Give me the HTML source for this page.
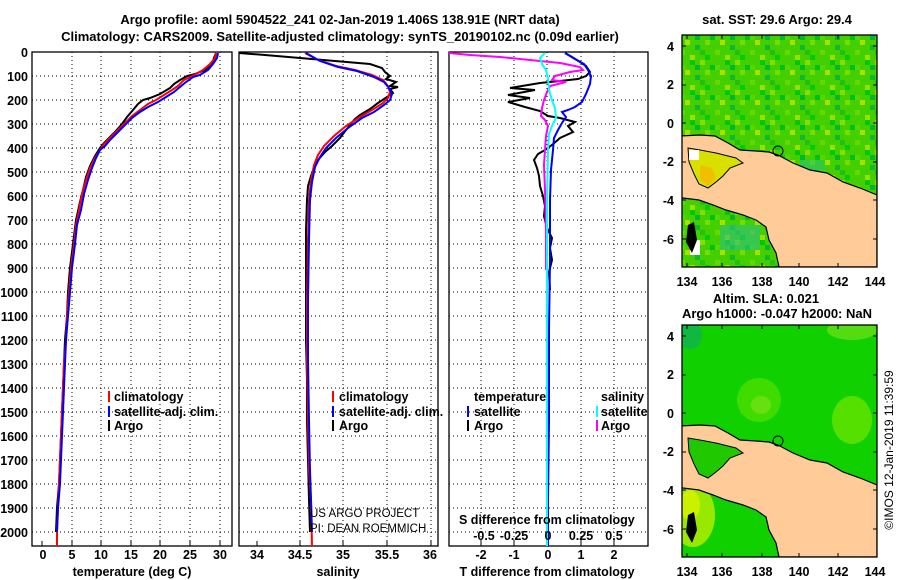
<!DOCTYPE html>
<html><head><meta charset="utf-8"><style>
html,body{margin:0;padding:0;background:#fff;}
svg{display:block;font-family:"Liberation Sans",sans-serif;}
.b{font-weight:bold;font-size:13px;}
.t{font-weight:bold;font-size:12.5px;}
.g{stroke:#000;stroke-width:1;stroke-dasharray:1,3;fill:none;}
</style></head><body>
<svg width="900" height="580" viewBox="0 0 900 580" xmlns="http://www.w3.org/2000/svg">
<rect width="900" height="580" fill="#fff"/>
<text class="b" x="340" y="24" text-anchor="middle">Argo profile: aoml 5904522_241 02-Jan-2019 1.406S 138.91E (NRT data)</text>
<text class="b" x="340" y="41" text-anchor="middle">Climatology: CARS2009. Satellite-adjusted climatology: synTS_20190102.nc (0.09d earlier)</text>

<g class="t" text-anchor="end">
<text x="28" y="57">0</text><text x="28" y="81">100</text><text x="28" y="105">200</text><text x="28" y="129">300</text><text x="28" y="153">400</text><text x="28" y="177">500</text><text x="28" y="201">600</text><text x="28" y="225">700</text><text x="28" y="249">800</text><text x="28" y="273">900</text><text x="28" y="297">1000</text><text x="28" y="321">1100</text><text x="28" y="345">1200</text><text x="28" y="369">1300</text><text x="28" y="393">1400</text><text x="28" y="417">1500</text><text x="28" y="441">1600</text><text x="28" y="465">1700</text><text x="28" y="489">1800</text><text x="28" y="513">1900</text><text x="28" y="537">2000</text>
</g>

<g class="g">
<path d="M32 76H232M32 100H232M32 124H232M32 148H232M32 172H232M32 196H232M32 220H232M32 244H232M32 268H232M32 292H232M32 316H232M32 340H232M32 364H232M32 388H232M32 412H232M32 436H232M32 460H232M32 484H232M32 508H232M32 532H232"/>
<path d="M239 76H438M239 100H438M239 124H438M239 148H438M239 172H438M239 196H438M239 220H438M239 244H438M239 268H438M239 292H438M239 316H438M239 340H438M239 364H438M239 388H438M239 412H438M239 436H438M239 460H438M239 484H438M239 508H438M239 532H438"/>
<path d="M449 76H648M449 100H648M449 124H648M449 148H648M449 172H648M449 196H648M449 220H648M449 244H648M449 268H648M449 292H648M449 316H648M449 340H648M449 364H648M449 388H648M449 412H648M449 436H648M449 460H648M449 484H648M449 508H648M449 532H648"/>
<path d="M72 52V546M101 52V546M131 52V546M160 52V546M190 52V546M220 52V546"/>
<path d="M300 52V546M343 52V546M387 52V546M431 52V546"/>
<path d="M481 52V546M514 52V546M547 52V546M581 52V546M614 52V546"/>
</g>
<rect x="32" y="52" width="200" height="494" fill="none" stroke="#000" stroke-width="1.3"/>
<rect x="239" y="52" width="199" height="494" fill="none" stroke="#000" stroke-width="1.3"/>
<rect x="449" y="52" width="199" height="494" fill="none" stroke="#000" stroke-width="1.3"/>
<g stroke="#000"><path d="M42 546v-5M72 546v-5M101 546v-5M131 546v-5M160 546v-5M190 546v-5M220 546v-5M257 546v-5M300 546v-5M343 546v-5M387 546v-5M431 546v-5M481 546v-5M514 546v-5M547 546v-5M581 546v-5M614 546v-5"/></g>

<g class="t" text-anchor="middle">
<text x="43" y="559">0</text><text x="72" y="559">5</text><text x="101" y="559">10</text><text x="131" y="559">15</text><text x="160" y="559">20</text><text x="190" y="559">25</text><text x="220" y="559">30</text>
<text x="257" y="559">34</text><text x="300" y="559">34.5</text><text x="343" y="559">35</text><text x="387" y="559">35.5</text><text x="430" y="559">36</text>
<text x="481" y="559">-2</text><text x="514" y="559">-1</text><text x="548" y="559">0</text><text x="581" y="559">1</text><text x="614" y="559">2</text>
<text x="132" y="576">temperature (deg C)</text><text x="338" y="576">salinity</text><text x="547" y="576">T difference from climatology</text>
</g>

<polyline fill="none" stroke="#000" stroke-width="2" points="216,53 214,58 212,64 205,70 195,74 187,76 180,80 174,84 170,88 160,94 150,98 143,100 138,104 133,110 127,117 122,124 115,132 110,137 104,143 100,148 95,156 90,166 86,177 83,190 80,202 76,220 73,244 70,268 68,292 67,316 65,340 64,364 63,388 62,412 61,436 60,460 59,484 57,508 56,532"/>
<polyline fill="none" stroke="#f00" stroke-width="2" points="216,53 215,58 210,64 203,70 196,74 190,77 184,80 178,86 172,90 164,95 156,100 148,104 140,110 132,116 124,124 117,131 110,138 104,144 100,150 95,158 90,168 86,180 82,194 79,210 76,225 74,244 71,268 69,292 67,316 66,340 64,364 63,388 62,412 61,436 60,460 59,484 58,508 57,530 57,546"/>
<polyline fill="none" stroke="#00f" stroke-width="2" points="218,53 217,58 213,64 208,70 200,75 193,77 186,82 180,87 174,92 166,97 158,102 148,107 140,112 132,118 124,126 116,134 110,140 105,146 100,150 96,158 92,168 88,180 84,194 81,210 77,225 75,244 72,268 70,292 68,316 66,340 65,364 64,388 63,412 62,436 61,460 60,484 58,508 57,532"/>

<polyline fill="none" stroke="#000" stroke-width="2" points="239,53 265,55 300,58 335,61 370,64 382,68 385,72 390,76 386,79 396,82 390,86 398,87 390,89 393,93 387,97 378,103 370,109 360,115 355,119 350,125 346,130 340,138 332,146 325,152 318,160 314,168 311,176 308,186 307,200 306,230 306,260 306,300 306,340 307,380 307,420 308,460 309,500 310,532"/>
<polyline fill="none" stroke="#f00" stroke-width="2" points="305,53 318,60 336,66 355,70 372,75 383,80 388,86 390,92 388,98 383,103 372,110 360,117 346,126 334,136 324,146 318,155 314,165 311,180 309,200 308,240 307,300 307,360 308,420 309,470 311,500 312,546"/>
<polyline fill="none" stroke="#00f" stroke-width="2" points="306,53 320,61 338,67 357,71 374,77 384,82 389,88 392,94 390,100 384,105 374,112 362,118 348,128 336,138 326,148 320,157 315,167 312,182 310,200 309,240 308,300 308,360 309,420 310,470 311,500 312,532"/>

<polyline fill="none" stroke="#000" stroke-width="2" points="565,53 572,57 580,62 586,66 590,72 586,76 578,79 560,81 540,83 510,88 535,90 508,95 530,98 508,102 525,107 540,111 548,116 560,118 575,122 568,126 573,132 560,138 552,145 545,150 538,154 534,160 537,168 539,176 540,186 543,196 545,206 544,216 547,228 552,238 550,248 552,260 549,272 550,290"/>
<polyline fill="none" stroke="#00f" stroke-width="2" points="565,53 575,59 584,64 588,70 591,76 590,84 586,94 582,102 575,107 568,110 562,112 566,117 562,123 558,130 554,138 553,150 551,170 550,200 550,260 549,330 549,420 548,500 548,546"/>
<polyline fill="none" stroke="#f0f" stroke-width="2" points="449,53 470,55 500,57 530,60 560,63 580,67 583,70 570,72 555,76 552,80 566,82 558,84 550,86 547,92 544,100 542,108 541,116 545,120 548,126 546,136 545,150 544,165 545,190 546,230 546,270"/>
<polyline fill="none" stroke="#0ff" stroke-width="2" points="545,53 540,58 542,64 546,70 548,78 549,90 552,100 555,108 556,118 552,126 549,134 548,150 547,200 547,300 547,400 547,546"/>

<g font-size="12.5" font-weight="bold">
<rect x="108" y="391" width="2" height="11" fill="#f00"/><text x="114" y="401">climatology</text>
<rect x="108" y="406" width="2" height="11" fill="#00f"/><text x="114" y="416">satellite-adj. clim.</text>
<rect x="108" y="420" width="2" height="11" fill="#000"/><text x="114" y="430">Argo</text>
<rect x="332" y="391" width="2" height="11" fill="#f00"/><text x="339" y="401">climatology</text>
<rect x="332" y="406" width="2" height="11" fill="#00f"/><text x="339" y="416">satellite-adj. clim.</text>
<rect x="332" y="420" width="2" height="11" fill="#000"/><text x="339" y="430">Argo</text>
<text x="474" y="401">temperature</text><text x="601" y="401">salinity</text>
<rect x="467" y="406" width="2" height="11" fill="#00f"/><text x="474" y="416">satellite</text>
<rect x="467" y="420" width="2" height="11" fill="#000"/><text x="474" y="430">Argo</text>
<rect x="596" y="406" width="2" height="11" fill="#0ff"/><text x="601" y="416">satellite</text>
<rect x="596" y="420" width="2" height="11" fill="#f0f"/><text x="601" y="430">Argo</text>
<text x="459" y="524">S difference from climatology</text>
<g text-anchor="middle"><text x="484" y="540">-0.5</text><text x="514" y="540">-0.25</text><text x="548" y="540">0</text><text x="581" y="540">0.25</text><text x="614" y="540">0.5</text></g>
</g>
<g font-size="11.5"><text x="310" y="517">US ARGO PROJECT</text><text x="310" y="532">PI: DEAN ROEMMICH</text></g>

<defs>
<clipPath id="mc"><rect x="682" y="35" width="195" height="232"/></clipPath>
<pattern id="p1" width="35" height="30" patternUnits="userSpaceOnUse">
<rect width="35" height="30" fill="#44d000"/>
<rect x="0" y="0" width="5" height="5" fill="#88dd00"/><rect x="10" y="5" width="5" height="5" fill="#00c020"/>
<rect x="20" y="10" width="5" height="5" fill="#aae000"/><rect x="30" y="15" width="5" height="5" fill="#10b830"/>
<rect x="15" y="20" width="5" height="5" fill="#66d800"/><rect x="5" y="25" width="5" height="5" fill="#00cc00"/>
<rect x="25" y="0" width="5" height="5" fill="#00c800"/><rect x="5" y="10" width="5" height="5" fill="#77dd00"/>
<rect x="25" y="25" width="5" height="5" fill="#99e000"/><rect x="0" y="20" width="5" height="5" fill="#22c010"/>
<rect x="15" y="5" width="5" height="5" fill="#55d800"/><rect x="30" y="5" width="5" height="5" fill="#00b830"/>
</pattern>
</defs>

<text class="b" x="777" y="24" text-anchor="middle">sat. SST: 29.6 Argo: 29.4</text>
<g clip-path="url(#mc)">
<rect x="682" y="35" width="195" height="232" fill="url(#p1)"/>
<rect x="720" y="225" width="40" height="25" fill="#30c080" opacity="0.6"/>
<rect x="800" y="160" width="25" height="20" fill="#20c080" opacity="0.5"/>
<rect x="690" y="240" width="10" height="15" fill="#fff"/>
<polygon fill="#ffcc99" stroke="#000" stroke-width="1.2" points="679,136 700,135 715,136 728,143 740,150 756,151 769,152 778,155 793,163 810,170 827,173 843,182 860,188 877,195 877,267 779,267 776,253 769,240 766,227 756,220 743,215 726,210 713,205 699,200 683,198 679,198"/>
<polygon fill="#d8e000" stroke="#000" stroke-width="1" points="688,148 700,150 716,153 736,158 743,163 730,168 723,176 716,182 708,188 699,184 694,174 689,162"/>
<polygon fill="#f0c000" points="700,165 712,168 716,178 708,186 700,180"/>
<rect x="689" y="150" width="10" height="10" fill="#fff"/>
<polygon fill="#000" points="688,225 694,222 697,240 692,253 686,242"/>
<circle cx="778" cy="151" r="5" fill="none" stroke="#000"/>
</g>
<rect x="682" y="35" width="195" height="232" fill="none" stroke="#000" stroke-width="1.3"/>
<g stroke="#000"><path d="M687 267v-4M722 267v-4M762 267v-4M799 267v-4M838 267v-4M687 35v4M722 35v4M762 35v4M799 35v4M838 35v4M682 46h4M682 85h4M682 123h4M682 162h4M682 200h4M682 239h4M877 46h-4M877 85h-4M877 123h-4M877 162h-4M877 200h-4M877 239h-4"/></g>
<g class="t" text-anchor="end"><text x="674" y="51">4</text><text x="674" y="89">2</text><text x="674" y="128">0</text><text x="674" y="166">-2</text><text x="674" y="205">-4</text><text x="674" y="244">-6</text></g>
<g class="t" text-anchor="middle"><text x="687" y="286">134</text><text x="722" y="286">136</text><text x="762" y="286">138</text><text x="799" y="286">140</text><text x="838" y="286">142</text><text x="875" y="286">144</text></g>

<text class="b" x="766" y="303" text-anchor="middle">Altim. SLA: 0.021</text>
<text class="b" x="777" y="318" text-anchor="middle">Argo h1000: -0.047 h2000: NaN</text>
<g transform="translate(0,290)">
<g clip-path="url(#mc)">
<rect x="682" y="35" width="195" height="232" fill="#10d000"/>
<ellipse cx="759" cy="110" rx="22" ry="22" fill="#40dc00"/>
<ellipse cx="761" cy="115" rx="10" ry="9" fill="#66e010"/>
<ellipse cx="852" cy="130" rx="20" ry="24" fill="#55e000"/>
<ellipse cx="852" cy="40" rx="25" ry="10" fill="#55dc10"/>
<ellipse cx="690" cy="45" rx="12" ry="14" fill="#10b840"/>
<ellipse cx="693" cy="225" rx="22" ry="32" fill="#99e800"/>
<ellipse cx="690" cy="215" rx="10" ry="15" fill="#ccf000"/>
<polygon fill="#ffcc99" stroke="#000" stroke-width="1.2" points="679,136 700,135 715,136 728,143 740,150 756,151 769,152 778,155 793,163 810,170 827,173 843,182 860,188 877,195 877,267 779,267 776,253 769,240 766,227 756,220 743,215 726,210 713,205 699,200 683,198 679,198"/>
<polygon fill="#20c800" stroke="#000" stroke-width="1" points="688,148 700,150 716,153 736,158 743,163 730,168 723,176 716,182 708,188 699,184 694,174 689,162"/>
<polygon fill="#000" points="688,225 694,222 697,240 692,253 686,242"/>
<circle cx="778" cy="151" r="5" fill="none" stroke="#000"/>
</g>
<rect x="682" y="35" width="195" height="232" fill="none" stroke="#000" stroke-width="1.3"/>
<g stroke="#000"><path d="M687 267v-4M722 267v-4M762 267v-4M799 267v-4M838 267v-4M687 35v4M722 35v4M762 35v4M799 35v4M838 35v4M682 46h4M682 85h4M682 123h4M682 162h4M682 200h4M682 239h4M877 46h-4M877 85h-4M877 123h-4M877 162h-4M877 200h-4M877 239h-4"/></g>
<g class="t" text-anchor="end"><text x="674" y="51">4</text><text x="674" y="89">2</text><text x="674" y="128">0</text><text x="674" y="166">-2</text><text x="674" y="205">-4</text><text x="674" y="244">-6</text></g>
<g class="t" text-anchor="middle"><text x="687" y="286">134</text><text x="722" y="286">136</text><text x="762" y="286">138</text><text x="799" y="286">140</text><text x="838" y="286">142</text><text x="875" y="286">144</text></g>
</g>
<text x="893" y="450" font-size="12" text-anchor="middle" transform="rotate(-90 893 450)">©IMOS 12-Jan-2019 11:39:59</text>
</svg>
</body></html>
